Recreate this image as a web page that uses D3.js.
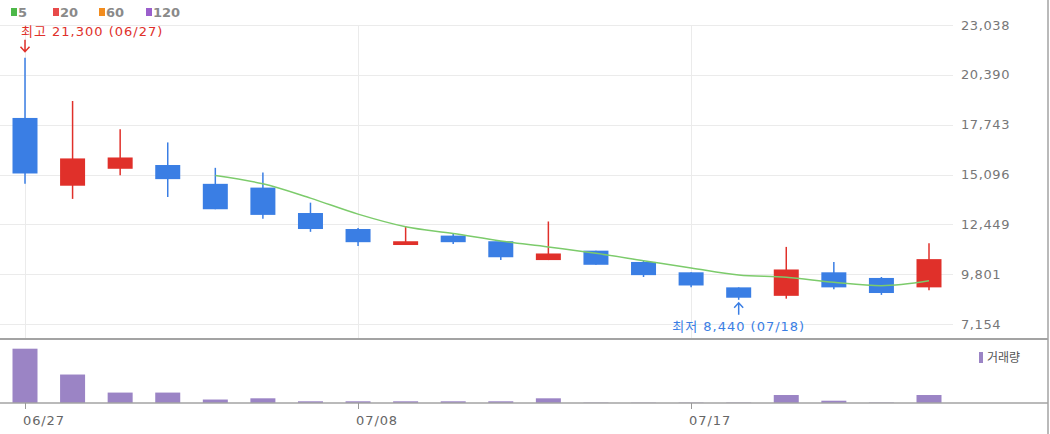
<!DOCTYPE html>
<html>
<head>
<meta charset="utf-8">
<script src="https://cdn.jsdelivr.net/npm/d3@7"></script>
<style>
  body { margin: 0; background: #fff; }
  svg { display: block; font-family: "DejaVu Sans", "Noto Sans CJK KR", sans-serif; }
</style>
</head>
<body>
<div id="chart"></div>
<script>
// -------------------------------------------------------------------------- //
//                              DATA                                          //
// -------------------------------------------------------------------------- //

var dates  = ["06/27","06/28","07/01","07/02","07/03","07/04","07/05","07/08","07/09","07/10",
              "07/11","07/12","07/15","07/16","07/17","07/18","07/19","07/22","07/23","07/24"];
var opens  = [18100, 14500, 15400, 15600, 14600, 14400, 13050, 12200, 11350, 11850,
              11550, 10550, 11050, 10450,  9900,  9100,  8650,  9900,  9600,  9100];
var highs  = [21300, 19000, 17500, 16800, 15450, 15200, 13600, 12250, 12350, 11950,
              11550, 12600, 11050, 10500,  9900,  9100, 11250, 10450,  9650, 11450];
var lows   = [14600, 13800, 15050, 13900, 13250, 12750, 12050, 11300, 11350, 11400,
              10550, 10550, 10300,  9650,  9100,  8440,  8500,  9000,  8700,  8950];
var closes = [15150, 15950, 16000, 14850, 13250, 12950, 12200, 11500, 11550, 11500,
              10700, 10900, 10300,  9750,  9200,  8550, 10050,  9100,  8800, 10600];
// 5 day moving average, starts on the 5th session
var ma5    = [null, null, null, null, 15040, 14600, 13840, 12990, 12320, 11960,
              11560, 11250, 10910, 10520, 10130,  9760,  9640,  9370,  9190,  9450];
var volumes = [1850, 970, 355, 355, 118, 160, 58, 58, 58, 58,
               58, 160, 12, 10, 12, 14, 272, 78, 15, 272];

var priceTicks = [7154, 9801, 12449, 15096, 17743, 20390, 23038];
var dateTicks  = ["06/27", "07/08", "07/17"];
var legendNames = ["5", "20", "60", "120"];
var legendColors = ["#4db848", "#e84a4a", "#f28c1e", "#9b5fcc"];

var UP = "#e0302a", DOWN = "#3a7ee4";

// -------------------------------------------------------------------------- //
//                              CHART                                         //
// -------------------------------------------------------------------------- //

var width = 1050, height = 434;
var plotRight = 953;      // end of the gridlines
var priceBottom = 339;    // border between price and volume panes
var volBase = 403;        // volume baseline

var svg = d3.select("#chart").append("svg")
    .attr("width", width)
    .attr("height", height);

var data = dates.map(function(d, i) {
  return { date: d, o: opens[i], h: highs[i], l: lows[i], c: closes[i], ma: ma5[i], v: volumes[i] };
});

// scales
var x = d3.scalePoint().domain(dates).range([25, 929]);
var y = d3.scaleLinear().domain([7154, 23038]).range([324, 25]);
var yv = d3.scaleLinear().domain([0, d3.max(volumes) * 1.16]).range([volBase, 340]);
var bodyW = 25;

// horizontal gridlines
svg.append("g")
  .selectAll("line")
  .data(priceTicks)
  .join("line")
    .attr("x1", 0).attr("x2", plotRight)
    .attr("y1", function(d) { return Math.round(y(d)) + 0.5; })
    .attr("y2", function(d) { return Math.round(y(d)) + 0.5; })
    .attr("stroke", "#ebebeb");

// vertical gridlines
svg.append("g")
  .selectAll("line")
  .data(dateTicks)
  .join("line")
    .attr("x1", function(d) { return Math.round(x(d)) + 0.5; })
    .attr("x2", function(d) { return Math.round(x(d)) + 0.5; })
    .attr("y1", 25).attr("y2", priceBottom)
    .attr("stroke", "#ebebeb");

// right price axis labels
svg.append("g")
  .selectAll("text")
  .data(priceTicks)
  .join("text")
    .attr("x", 961)
    .attr("y", function(d) { return y(d); })
    .attr("dy", "0.35em")
    .attr("fill", "#777")
    .attr("font-size", "13px")
    .attr("letter-spacing", "0.6px")
    .text(d3.format(","));

// wicks
svg.append("g")
  .selectAll("line")
  .data(data)
  .join("line")
    .attr("x1", function(d) { return x(d.date); })
    .attr("x2", function(d) { return x(d.date); })
    .attr("y1", function(d) { return y(d.h); })
    .attr("y2", function(d) { return y(d.l); })
    .attr("stroke", function(d) { return d.c >= d.o ? UP : DOWN; })
    .attr("stroke-width", 1.5);

// bodies
svg.append("g")
  .selectAll("rect")
  .data(data)
  .join("rect")
    .attr("x", function(d) { return x(d.date) - bodyW / 2; })
    .attr("y", function(d) { return y(Math.max(d.o, d.c)); })
    .attr("width", bodyW)
    .attr("height", function(d) { return Math.max(1, y(Math.min(d.o, d.c)) - y(Math.max(d.o, d.c))); })
    .attr("fill", function(d) { return d.c >= d.o ? UP : DOWN; });

// moving average line
var maLine = d3.line()
    .defined(function(d) { return d.ma != null; })
    .curve(d3.curveMonotoneX)
    .x(function(d) { return x(d.date); })
    .y(function(d) { return y(d.ma); });

svg.append("path")
  .datum(data)
  .attr("fill", "none")
  .attr("stroke", "#7ccb6b")
  .attr("stroke-width", 1.5)
  .attr("d", maLine);

// high / low annotations
var hi = data[d3.maxIndex(highs)];
var lo = data[d3.minIndex(lows)];

svg.append("path")
  .attr("d", "M" + x(hi.date) + "," + (y(hi.h) - 18) + "V" + (y(hi.h) - 6) +
             "M" + (x(hi.date) - 4.5) + "," + (y(hi.h) - 11) + "L" + x(hi.date) + "," + (y(hi.h) - 6) +
             "L" + (x(hi.date) + 4.5) + "," + (y(hi.h) - 11))
  .attr("fill", "none")
  .attr("stroke", UP)
  .attr("stroke-width", 1.5);

svg.append("text")
  .attr("x", x(hi.date) - 4)
  .attr("y", y(hi.h) - 22)
  .attr("fill", UP)
  .attr("font-size", "13px")
  .attr("letter-spacing", "1px")
  .text("최고 " + d3.format(",")(hi.h) + " (" + hi.date + ")");

svg.append("path")
  .attr("d", "M" + x(lo.date) + "," + (y(lo.l) + 15) + "V" + (y(lo.l) + 3) +
             "M" + (x(lo.date) - 4.5) + "," + (y(lo.l) + 8) + "L" + x(lo.date) + "," + (y(lo.l) + 3) +
             "L" + (x(lo.date) + 4.5) + "," + (y(lo.l) + 8))
  .attr("fill", "none")
  .attr("stroke", DOWN)
  .attr("stroke-width", 1.5);

svg.append("text")
  .attr("x", x(lo.date))
  .attr("y", y(lo.l) + 31)
  .attr("text-anchor", "middle")
  .attr("fill", DOWN)
  .attr("font-size", "13px")
  .attr("letter-spacing", "1px")
  .text("최저 " + d3.format(",")(lo.l) + " (" + lo.date + ")");

// volume bars
svg.append("g")
  .selectAll("rect")
  .data(data)
  .join("rect")
    .attr("x", function(d) { return x(d.date) - bodyW / 2; })
    .attr("y", function(d) { return yv(d.v); })
    .attr("width", bodyW)
    .attr("height", function(d) { return volBase - yv(d.v); })
    .attr("fill", "#9b84c5");

// pane borders
svg.append("line")
  .attr("x1", 0).attr("x2", 1048)
  .attr("y1", priceBottom).attr("y2", priceBottom)
  .attr("stroke", "#a3a3a3").attr("stroke-width", 2);

svg.append("line")
  .attr("x1", 0).attr("x2", 1048)
  .attr("y1", volBase).attr("y2", volBase)
  .attr("stroke", "#a3a3a3").attr("stroke-width", 1.5);

svg.append("line")
  .attr("x1", 1048).attr("x2", 1048)
  .attr("y1", 0).attr("y2", height)
  .attr("stroke", "#a3a3a3").attr("stroke-width", 1.5);

// date axis
var xAxis = svg.append("g");
xAxis.selectAll("line")
  .data(dateTicks)
  .join("line")
    .attr("x1", function(d) { return Math.round(x(d)) + 0.5; })
    .attr("x2", function(d) { return Math.round(x(d)) + 0.5; })
    .attr("y1", volBase).attr("y2", volBase + 6)
    .attr("stroke", "#999");

xAxis.selectAll("text")
  .data(dateTicks)
  .join("text")
    .attr("x", function(d) { return x(d) - 2; })
    .attr("y", 420)
    .attr("dy", "0.35em")
    .attr("fill", "#666")
    .attr("font-size", "13px")
    .attr("letter-spacing", "0.9px")
    .text(function(d) { return d; });

// moving average legend
var legendX = [11, 53, 99, 146];
var legend = svg.append("g");
legendNames.forEach(function(name, i) {
  legend.append("rect")
    .attr("x", legendX[i]).attr("y", 8)
    .attr("width", 6).attr("height", 8)
    .attr("fill", legendColors[i]);
  legend.append("text")
    .attr("x", legendX[i] + 7).attr("y", 12)
    .attr("dy", "0.35em")
    .attr("fill", "#8a8a8a")
    .attr("font-size", "13px")
    .attr("font-weight", "bold")
    .text(name);
});

// volume legend
svg.append("rect")
  .attr("x", 979).attr("y", 352)
  .attr("width", 4).attr("height", 11)
  .attr("fill", "#9b84c5");

svg.append("text")
  .attr("x", 987).attr("y", 358)
  .attr("dy", "0.35em")
  .attr("fill", "#555")
  .attr("font-size", "12px")
  .text("거래량");
</script>
</body>
</html>
